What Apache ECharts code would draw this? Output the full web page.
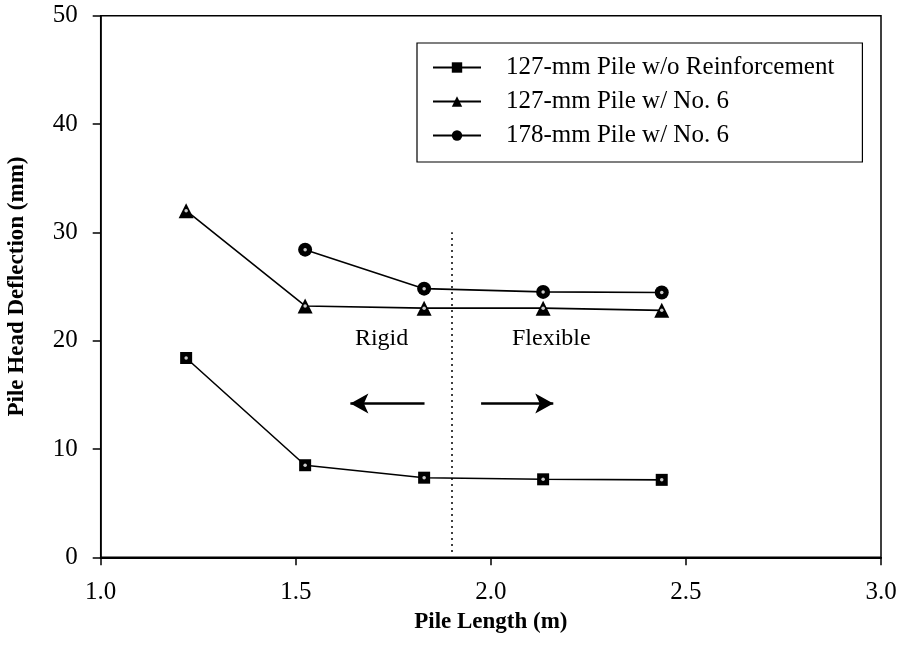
<!DOCTYPE html>
<html><head><meta charset="utf-8">
<script src="https://cdn.jsdelivr.net/npm/echarts@6/dist/echarts.min.js"></script>
<style>html,body{margin:0;padding:0;background:#fff}#c{width:901px;height:659px}</style>
</head><body><div id="c"></div>
<script>
const pileLength = [1.219, 1.524, 1.829, 2.134, 2.438];
const noReinf127 = [18.4, 8.5, 7.35, 7.2, 7.15];
const no6_127 = [32.0, 23.2, 23.0, 23.0, 22.8];
const no6_178 = [null, 28.4, 24.8, 24.5, 24.45];
const seriesNames = ['127-mm Pile w/o Reinforcement', '127-mm Pile w/ No. 6', '178-mm Pile w/ No. 6'];
const xTicks = [1.0, 1.5, 2.0, 2.5, 3.0];
const yTicks = [0, 10, 20, 30, 40, 50];
const boundaryX = 1.9;
const boundaryY = [0.5, 30];
const rigidArrow = [[1.83, 14.2], [1.64, 14.2]];
const flexArrow = [[1.975, 14.2], [2.16, 14.2]];
const annotations = [{text: 'Rigid', x: 1.72, y: 20.2}, {text: 'Flexible', x: 2.155, y: 20.2}];

const FONT = '"Liberation Serif", "Times New Roman", serif';
const pairs = arr => pileLength.map((x, i) => [x, arr[i]]).filter(p => p[1] != null);

function mkSeries(name, arr, symbol, size) {
  return {
    name, type: 'line', data: pairs(arr), symbol, symbolSize: size,
    lineStyle: {color: '#000', width: 1.6},
    itemStyle: {color: '#000', borderColor: '#000', borderWidth: 0},
    z: 3
  };
}
function dots(arr) {
  return {type: 'scatter', data: pairs(arr), symbol: 'circle', symbolSize: 3.5,
    itemStyle: {color: '#fff'}, z: 5, silent: true, tooltip: {show: false}};
}

const chart = echarts.init(document.getElementById('c'));
chart.setOption({
  animation: false,
  backgroundColor: '#fff',
  grid: {left: 100.7, right: 20, top: 15.7, bottom: 101.7, containLabel: false, outerBoundsMode: 'none',
    show: true, borderColor: '#000', borderWidth: 1.5, backgroundColor: 'transparent'},
  legend: {
    data: seriesNames, orient: 'vertical', left: 417, top: 43,
    itemWidth: 48, itemHeight: 13, itemGap: 9,
    padding: [12, 28, 14, 15],
    borderColor: '#000', borderWidth: 1.2,
    textStyle: {fontFamily: FONT, fontSize: 25, color: '#000', padding: [0, 0, 0, 20]}
  },
  xAxis: {
    type: 'value', min: 1.0, max: 3.0, interval: 0.5,
    name: 'Pile Length (m)', nameLocation: 'middle', nameGap: 52,
    nameTextStyle: {fontFamily: FONT, fontSize: 23, fontWeight: 'bold', color: '#000'},
    axisLine: {lineStyle: {color: '#000', width: 2}},
    axisTick: {show: true, length: 8, lineStyle: {color: '#000', width: 1.5}},
    axisLabel: {fontFamily: FONT, fontSize: 25, color: '#000', margin: 23, formatter: v => v.toFixed(1)},
    splitLine: {show: false}
  },
  yAxis: {
    type: 'value', min: 0, max: 50, interval: 10,
    name: 'Pile Head Deflection (mm)', nameLocation: 'middle', nameGap: 72,
    nameTextStyle: {fontFamily: FONT, fontSize: 23, fontWeight: 'bold', color: '#000'},
    axisLine: {lineStyle: {color: '#000', width: 1.5}},
    axisTick: {show: true, length: 8, lineStyle: {color: '#000', width: 1.5}},
    axisLabel: {fontFamily: FONT, fontSize: 25, color: '#000', margin: 23},
    splitLine: {show: false}
  },
  series: [
    Object.assign(mkSeries(seriesNames[0], noReinf127, 'rect', 12), {
      markLine: {
        silent: true, symbol: 'none', animation: false,
        label: {show: false},
        lineStyle: {color: '#000', type: [2, 4], width: 1.5},
        data: [[{coord: [boundaryX, boundaryY[0]]}, {coord: [boundaryX, boundaryY[1]]}]]
      },
      markPoint: {
        symbol: 'circle', symbolSize: 0.1, silent: true,
        label: {show: true, position: 'inside', fontFamily: FONT, fontSize: 24, color: '#000', formatter: p => p.name},
        data: annotations.map(a => ({name: a.text, coord: [a.x, a.y]}))
      }
    }),
    Object.assign(mkSeries(seriesNames[1], no6_127, 'triangle', 15), {
      markLine: {
        silent: true, animation: false,
        symbol: ['none', 'arrow'], symbolSize: [15, 18],
        label: {show: false},
        lineStyle: {color: '#000', type: 'solid', width: 2.5},
        data: [[{coord: rigidArrow[0]}, {coord: rigidArrow[1]}], [{coord: flexArrow[0]}, {coord: flexArrow[1]}]]
      }
    }),
    mkSeries(seriesNames[2], no6_178, 'circle', 14),
    dots(noReinf127), dots(no6_127), dots(no6_178)
  ]
});
</script></body></html>
